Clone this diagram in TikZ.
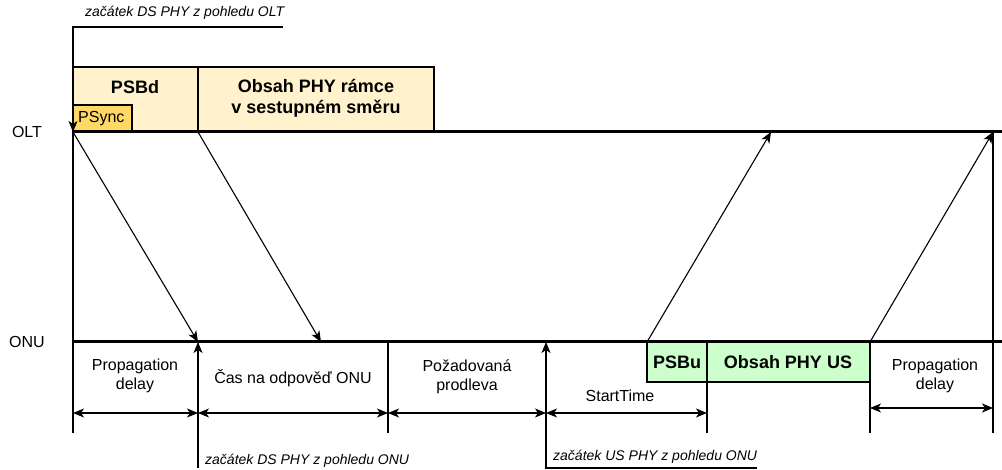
\documentclass[tikz,border=0pt]{standalone}
\usepackage{fontspec}
\setmainfont{Liberation Sans}
\usetikzlibrary{arrows.meta}
\definecolor{dsfill}{HTML}{FFF2CC}
\definecolor{syncfill}{HTML}{FFD966}
\definecolor{usfill}{HTML}{CCFFCC}
\begin{document}
\begin{tikzpicture}[x=1pt,y=-1pt,
  timeline/.style={line width=3pt},
  guide/.style={line width=1.1pt},
  sig/.style={line width=1.1pt,-{Stealth[length=11pt,width=9pt,inset=3pt]}},
  dim/.style={line width=1.1pt,{Stealth[length=11pt,width=9pt,inset=3pt]}-{Stealth[length=11pt,width=9pt,inset=3pt]}},
  frame/.style={draw, line width=1.1pt, inner sep=0pt, outer sep=0pt, anchor=north west},
  lbl/.style={font=\fontsize{16}{19}\selectfont, align=center, inner sep=0pt},
  boldlbl/.style={font=\fontsize{18}{21}\selectfont\bfseries, align=center, inner sep=0pt},
  note/.style={font=\fontsize{14}{16}\selectfont\itshape, anchor=west, inner sep=0pt},
]
\useasboundingbox (0,0) rectangle (1002,470);

% coordinates
\coordinate (olt0) at (73,132);
\coordinate (oltA) at (198,132);
\coordinate (oltB) at (771,132);
\coordinate (oltC) at (993,132);
\coordinate (oltEnd) at (1002,132);
\coordinate (onu0) at (73,342);
\coordinate (onuA) at (198,342);
\coordinate (onuB) at (321,342);
\coordinate (onuC) at (388,342);
\coordinate (onuD) at (546,342);
\coordinate (onuE) at (647,342);
\coordinate (onuF) at (870,342);
\coordinate (onuEnd) at (1002,342);
\coordinate (topEnd) at (283,27);
\coordinate (topCorner) at (73,27);
\coordinate (bot0) at (73,433);
\coordinate (botA) at (198,468);
\coordinate (botC) at (388,433);
\coordinate (botD) at (546,468);
\coordinate (usEnd) at (757,468);
\coordinate (botG) at (707,433);
\coordinate (usMid) at (707,382);
\coordinate (botF) at (870,433);
\coordinate (botH) at (993,433);

% downstream frame boxes
\node[frame, fill=dsfill, minimum width=125pt, minimum height=65pt] (psbd) at (73,67) {};
\node[frame, fill=dsfill, minimum width=236pt, minimum height=65pt] (dsbody) at (198,67) {};
\node[frame, fill=syncfill, minimum width=59pt, minimum height=27pt] (psync) at (73,105) {};
% upstream boxes
\node[frame, fill=usfill, minimum width=60pt, minimum height=40pt] (psbu) at (647,342) {};
\node[frame, fill=usfill, minimum width=163pt, minimum height=40pt] (usbody) at (707,342) {};

% timelines
\draw[timeline] (olt0) -- (oltEnd);
\draw[timeline] (onu0) -- (onuEnd);

% box labels
\node[boldlbl] (tpsbd) at (135,87) {PSBd};
\node[boldlbl] (tds) at (316,98) {Obsah PHY rámce\\v sestupném směru};
\node[lbl, anchor=west] (tpsync) at (78,119) {PSync};
\node[boldlbl] (tpsbu) at (677,362) {PSBu};
\node[boldlbl] (tus) at (788,362) {Obsah PHY US};

% side labels
\node[lbl] (lolt) at (27,132) {OLT};
\node[lbl] (lonu) at (27,342) {ONU};

% vertical guides
\draw[sig] (topEnd) -- (topCorner) -- (olt0);
\draw[guide] (olt0) -- (bot0);
\draw[sig] (botA) -- (onuA);
\draw[guide] (onuC) -- (botC);
\draw[sig] (usEnd) -- (botD) -- (onuD);
\draw[guide] (usMid) -- (botG);
\draw[guide] (onuF) -- (botF);
\draw[guide] (oltC) -- (botH);

% signal arrows
\draw[sig] (olt0) -- (onuA);
\draw[sig] (oltA) -- (onuB);
\draw[sig] (onuE) -- (oltB);
\draw[sig] (onuF) -- (oltC);

% dimension arrows
\draw[dim] (73,413) coordinate (d0) -- (198,413) coordinate (d1);
\draw[dim] (d1) -- (388,413) coordinate (d2);
\draw[dim] (d2) -- (546,413) coordinate (d3);
\draw[dim] (d3) -- (707,413) coordinate (d4);
\draw[dim] (870,408) coordinate (d5) -- (993,408) coordinate (d6);

% interval labels
\node[lbl] (tprop1) at (135,376) {Propagation\\delay};
\node[lbl] (tcas) at (293,378) {Čas na odpověď ONU};
\node[lbl] (tpoz) at (467,377) {Požadovaná\\prodleva};
\node[lbl] (tstart) at (620,396) {StartTime};
\node[lbl] (tprop2) at (935,376) {Propagation\\delay};

% notes
\node[note] (ndsolt) at (85,13) {začátek DS PHY z pohledu OLT};
\node[note] (ndsonu) at (205,461) {začátek DS PHY z pohledu ONU};
\node[note] (nusonu) at (553,457) {začátek US PHY z pohledu ONU};
\end{tikzpicture}
\end{document}
